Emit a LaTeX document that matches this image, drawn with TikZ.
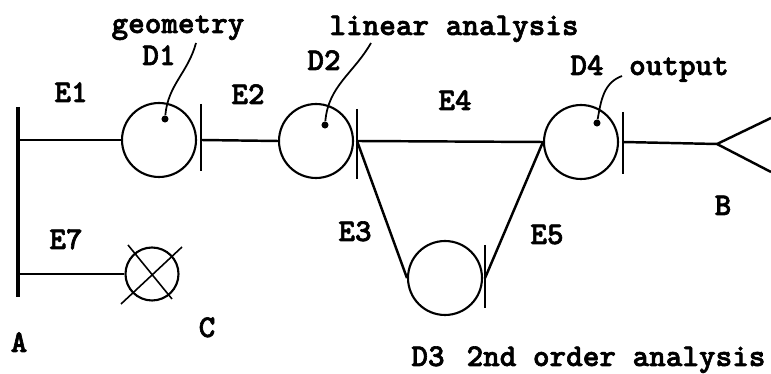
\documentclass[tikz,border=0pt]{standalone}
\usepackage{fontspec}
\newfontfamily\diagfont{lmmonolt10-bold}[Extension=.otf,FakeBold=2]
\usetikzlibrary{calc,positioning}
\tikzset{
myDisc/.style={
	circle,draw,line width=1.2pt,
	inner sep=0pt,minimum size=1.48cm
}
, myCrossDisc/.style={
	circle,draw,line width=1.2pt,
	inner sep=0pt,minimum size=1.06cm
}
, myDot/.style={
	circle,fill,inner sep=0pt,minimum size=4pt
}
, myLabel/.style={
	font=\diagfont\fontsize{18pt}{20pt}\selectfont,
	inner sep=0pt,anchor=base
}
% link
, myLink/.style={line width=1.4pt}
, myStop/.style={line width=0.9pt}
, myWall/.style={line width=2.8pt}
, myLeader/.style={line width=1pt}
}
\begin{document}
\begin{tikzpicture}[x=0.02cm,y=-0.02cm]
	\useasboundingbox (0,0) rectangle (771,374);
	% nodes
	\node[myDisc] (D1) at (159,140) {};
	\node[myDisc] (D2) at (316,141) {};
	\node[myDisc] (D3) at (445,278) {};
	\node[myDisc] (D4) at (581,142) {};
	\node[myCrossDisc] (C) at (152,274) {};
	\draw[myStop] ($(C)+(-31,30)$) -- ($(C)+(30,-27)$);
	\draw[myStop] ($(C)+(-24,-29)$) -- ($(C)+(20,25)$);
	% wall A
	\draw[myWall] (18,107) -- (18,297);
	\coordinate (A1) at (18,140);
	\coordinate (A2) at (18,274);
	% stops
	\coordinate (D1out) at ($(D1.east)+(4,0)$);
	\coordinate (D2out) at ($(D2.east)+(3,0)$);
	\coordinate (D3out) at ($(D3.east)+(2,0)$);
	\coordinate (D4out) at ($(D4.east)+(4,0)$);
	\draw[myStop] ($(D1out)+(0,-36)$) -- ($(D1out)+(0,31)$);
	\draw[myStop] ($(D2out)+(0,-32)$) -- ($(D2out)+(0,38)$);
	\draw[myStop] ($(D3out)+(0,-33)$) -- ($(D3out)+(0,30)$);
	\draw[myStop] ($(D4out)+(0,-30)$) -- ($(D4out)+(0,32)$);
	% output fork
	\coordinate (B) at (717,144);
	\coordinate (Bup) at (771,118);
	\coordinate (Bdown) at (771,172);
	
	% links
	\draw[myLink] (A1) -- (D1.west);
	\draw[myLink] (D1out) -- (D2.west);
	\draw[myLink] (D2out) -- (D4.west);
	\draw[myLink] (D2out) -- (D3.west);
	\draw[myLink] (D3out) -- (D4.west);
	\draw[myLink] (D4out) -- (B);
	\draw[myLink] (Bup) -- (B) -- (Bdown);
	\draw[myLink] (A2) -- (C.west);
	
	% leaders
	\node[myDot] (D1p) at ($(D1)+(6,-21)$) {};
	\node[myDot] (D2p) at ($(D2)+(9,-16)$) {};
	\node[myDot] (D4p) at ($(D4)+(16,-19)$) {};
	\coordinate (D1tip) at (196,43);
	\coordinate (D2tip) at (371,43);
	\coordinate (D4tip) at (622,76);
	\draw[myLeader] (D1p) to[out=85,in=-105] (D1tip);
	\draw[myLeader] (D2p) to[out=85,in=-120] (D2tip);
	\draw[myLeader] (D4p) to[out=80,in=200] (D4tip);
	
	% labels
	\node[myLabel] (geo) at (178,33) {geometry};
	\node[myLabel] (lin) at (454,35) {linear analysis};
	\node[myLabel] (out) at (679,75) {output};
	\node[myLabel] (ord) at (616,366) {2nd order analysis};
	\node[myLabel] (D1l) at (159,65) {D1};
	\node[myLabel] (D2l) at (324,70) {D2};
	\node[myLabel] (D3l) at (428,366) {D3};
	\node[myLabel] (D4l) at (587,75) {D4};
	\node[myLabel] (E1) at (71,102) {E1};
	\node[myLabel] (E2) at (248,104) {E2};
	\node[myLabel] (E3) at (355,241) {E3};
	\node[myLabel] (E4) at (455,110) {E4};
	\node[myLabel] (E5) at (547,244) {E5};
	\node[myLabel] (E7) at (66,249) {E7};
	\node[myLabel] (Al) at (19,352) {A};
	\node[myLabel] (Bl) at (723,215) {B};
	\node[myLabel] (Cl) at (207,337) {C};
\end{tikzpicture}
\end{document}
